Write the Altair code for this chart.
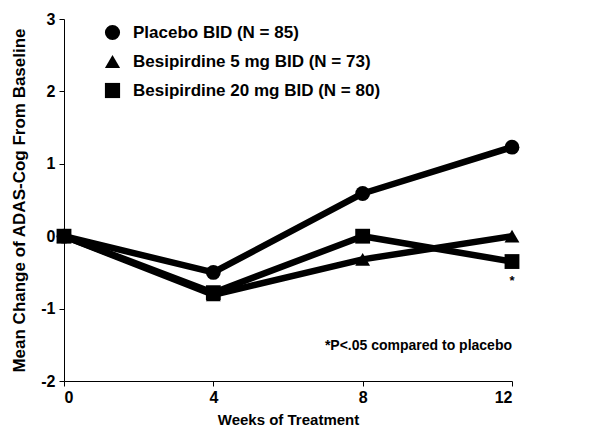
import altair as alt
import pandas as pd

weeks = [0, 4, 8, 12]
y_ticks = [-2, -1, 0, 1, 2, 3]
series_names = ["Placebo BID (N = 85)", "Besipirdine 5 mg BID (N = 73)", "Besipirdine 20 mg BID (N = 80)"]
placebo = [0.0, -0.5, 0.59, 1.23]
besi5 = [0.0, -0.81, -0.32, 0.0]
besi20 = [0.0, -0.78, 0.0, -0.35]
shapes = ["circle", "triangle-up", "square"]

rows = []
for name, vals in zip(series_names, [placebo, besi5, besi20]):
    for w, v in zip(weeks, vals):
        rows.append({"week": w, "value": v, "series": name})
df = pd.DataFrame(rows)

FONT = "Liberation Sans"

x_enc = alt.X("week:Q", scale=alt.Scale(domain=[0, 12], nice=False),
              axis=alt.Axis(values=weeks, title="Weeks of Treatment", labelExpr="'' + datum.value",
                            titleFontSize=15, titlePadding=7))
y_enc = alt.Y("value:Q", scale=alt.Scale(domain=[-2, 3], nice=False),
              axis=alt.Axis(values=y_ticks, title="Mean Change of ADAS-Cog From Baseline",
                            labelExpr="'' + datum.value", titleFontSize=17, titlePadding=12))

lines = alt.Chart(df).mark_line(color="black", strokeWidth=6.5, strokeJoin="round").encode(
    x=x_enc, y=y_enc, detail="series:N",
)

points = alt.Chart(df).mark_point(filled=True, color="black", size=220, opacity=1).encode(
    x=x_enc, y=y_enc,
    shape=alt.Shape("series:N", scale=alt.Scale(domain=series_names, range=shapes),
                    sort=series_names,
                    legend=alt.Legend(title=None, orient="none", legendX=40, legendY=5,
                                      labelFontSize=17, labelFont=FONT, labelFontWeight="bold",
                                      labelColor="black", symbolSize=230, symbolFillColor="black",
                                      symbolStrokeWidth=0, symbolType="circle",
                                      rowPadding=11, labelOffset=12, labelLimit=400)),
)

star_df = pd.DataFrame({"week": [12], "value": [-0.62], "label": ["*"]})
star = alt.Chart(star_df).mark_text(font=FONT, fontWeight="bold", fontSize=13, color="black",
                                    align="center", baseline="middle").encode(
    x=alt.X("week:Q"), y=alt.Y("value:Q"), text="label:N")

note_df = pd.DataFrame({"week": [12], "value": [-1.52], "label": ["*P<.05 compared to placebo"]})
note = alt.Chart(note_df).mark_text(font=FONT, fontWeight="bold", fontSize=14, color="black",
                                    align="right", baseline="middle").encode(
    x=alt.X("week:Q"), y=alt.Y("value:Q"), text="label:N")

chart = alt.layer(lines, points, star, note).properties(
    width=448, height=362,
    autosize=alt.AutoSizeParams(type="none"),
    padding={"left": 56, "top": 11, "right": 40, "bottom": 56},
).configure_view(stroke=None).configure_axis(
    grid=False, domainColor="black", tickColor="black", domainWidth=1, tickWidth=1, tickSize=5,
    labelFont=FONT, labelFontWeight="bold", labelFontSize=16, labelColor="black",
    titleFont=FONT, titleFontWeight="bold", titleColor="black",
).configure_axisY(labelPadding=4).configure_axisX(labelPadding=3)

chart.save("out.html", embed_options={"renderer": "svg", "actions": False})
